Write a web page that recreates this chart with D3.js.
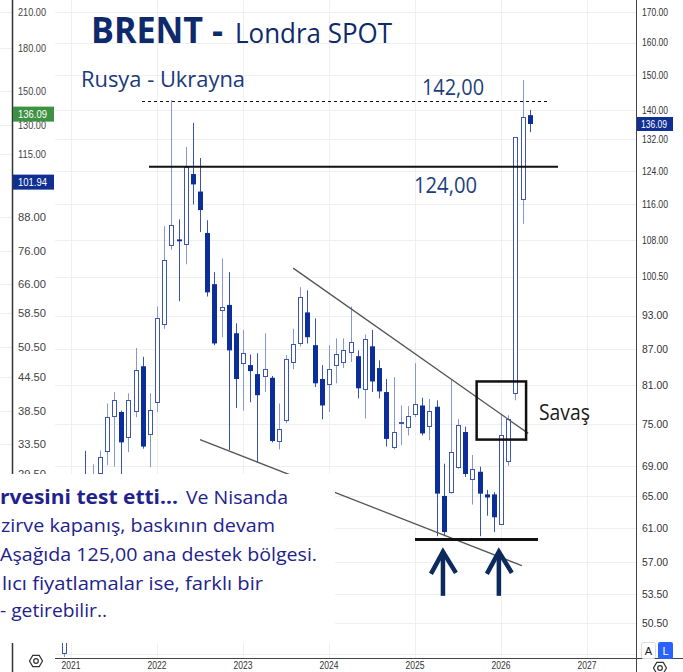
<!DOCTYPE html>
<html><head><meta charset="utf-8">
<script src="https://cdn.jsdelivr.net/npm/d3@7"></script>
<style>body{margin:0;background:#fff;}svg{display:block;}</style>
</head><body>
<svg id="c" width="683" height="672"></svg>
<script>
// ---- data (monthly Brent candles) ----
const months = ["2020-12",
 "2021-01","2021-02","2021-03","2021-04","2021-05","2021-06","2021-07","2021-08","2021-09","2021-10","2021-11","2021-12",
 "2022-01","2022-02","2022-03","2022-04","2022-05","2022-06","2022-07","2022-08","2022-09","2022-10","2022-11","2022-12",
 "2023-01","2023-02","2023-03","2023-04","2023-05","2023-06","2023-07","2023-08","2023-09","2023-10","2023-11","2023-12",
 "2024-01","2024-02","2024-03","2024-04","2024-05","2024-06","2024-07","2024-08","2024-09","2024-10","2024-11","2024-12",
 "2025-01","2025-02","2025-03","2025-04","2025-05","2025-06","2025-07","2025-08","2025-09","2025-10","2025-11","2025-12",
 "2026-01","2026-02","2026-03","2026-04","2026-05"];
const open  = [47.6,
 51.5,55.5,66.0,64.0,68.0,71.0,76.2,76.8,73.0,76.8,84.1,73.5,
 78.3,91.4,106.9,108.2,107.2,123.2,119.0,109.6,99.0,94.0,95.0,89.8,
 84.6,84.3,82.8,82.5,82.2,72.5,75.5,84.8,88.2,93.6,87.7,82.0,
 81.2,84.3,84.8,86.5,85.8,80.4,87.5,83.8,79.9,71.7,75.1,74.6,
 76.6,77.8,74.6,77.6,65.0,65.5,68.9,73.8,67.2,68.2,65.2,65.2,
 61.5,69.6,79.7,117.2,138.5];
const high  = [52.0,
 56.5,67.8,71.1,69.2,71.1,78.1,79.9,77.0,79.7,87.2,85.7,79.7,
 94.7,111.1,142.7,112.6,130.0,136.4,127.2,112.4,101.4,104.2,101.4,91.6,
 90.4,86.1,86.3,89.8,82.5,78.1,86.0,90.6,98.4,97.8,92.5,84.3,
 87.7,88.9,88.9,94.7,86.8,89.6,90.4,85.1,82.0,82.3,77.8,77.7,
 84.6,79.0,78.8,78.6,69.3,82.0,75.7,74.6,70.5,68.9,65.8,65.5,
 76.4,76.3,132.5,148.5,139.9];
const low   = [47.2,
 50.5,55.0,60.5,61.5,64.5,69.1,68.9,65.0,70.9,76.0,71.4,68.8,
 76.8,90.6,106.0,95.7,103.0,116.0,109.8,96.6,87.7,89.1,71.2,77.4,
 77.0,78.3,69.5,79.9,72.3,71.3,75.1,83.6,87.5,88.0,80.7,75.7,
 76.8,81.3,83.8,84.8,78.9,75.8,79.9,78.9,71.7,71.3,71.9,73.3,
 76.0,73.3,72.6,60.0,60.0,65.3,68.6,67.5,63.9,60.0,62.5,60.5,
 61.4,69.0,78.6,111.6,133.9];
const close = [51.5,
 55.5,66.0,64.0,67.8,70.2,76.0,78.6,72.3,78.6,83.4,71.7,77.1,
 92.5,103.8,111.3,107.8,124.9,120.7,114.7,97.4,88.0,94.6,86.8,82.0,
 86.3,83.3,79.4,83.6,72.5,74.3,85.3,87.9,96.6,89.1,81.3,77.8,
 83.6,86.1,86.8,88.2,80.5,88.8,81.6,80.0,72.8,73.8,75.3,76.2,
 78.1,73.6,76.9,65.3,60.5,70.9,74.9,67.9,68.6,65.3,64.8,62.3,
 73.4,75.7,132.5,137.9,136.09];

const rightTicks = [170,160,150,140,132,124,116,108,100.5,93,87,81,75,69,65,61,57,53.5,50.5];
const rightGridExtra = [47.5];
const leftTicks  = [210,180,150,130,115,88,76,66,58.5,50.5,44.5,38.5,33.5,29.5];
const years      = [2021,2022,2023,2024,2025,2026,2027];
const lastPrice  = 136.09;
const leftBadges = [{v:136.09,c:"#3d9142"},{v:101.94,c:"#0f2f93"}];

// annotation levels (price / month-index coordinates)
const resistTop = 142.5, resist = 125, support = 59.6;
const upperTrend = [[31,102.2],[63.8,73.6]];
const lowerTrend = [[18,72.7],[62.9,56.6]];
const warBox = [[56.6,81.6],[63.5,72.7]];
const arrowsAt = [51.9,59.7];
const arrowTip = 58.4, arrowEnd = 53.3;

// ---- scales ----
const svg = d3.select("#c");
const x  = d3.scaleLinear().domain([0,72]).range([71,587]);
const y  = d3.scaleLog().domain([50.5,170]).range([623,12]);
const yL = d3.scaleLog().domain([29.5,210]).range([474,12]);
const mi = s => { const [Y,M] = s.split("-").map(Number); return (Y-2021)*12 + M - 1; };
const candles = months.map((m,i)=>({m:mi(m),o:open[i],h:high[i],l:low[i],c:close[i]}));

const AX_R = 636, AX_B = 658, PL = 55;
const grid = "#efefef";

// ---- grids ----
const g0 = svg.append("g");
g0.selectAll(".lg").data(leftTicks).join("line")
  .attr("x1",0).attr("x2",12).attr("y1",d=>Math.round(yL(d))+0.5).attr("y2",d=>Math.round(yL(d))+0.5)
  .attr("stroke",grid);
g0.selectAll(".rg").data(rightTicks.concat(rightGridExtra)).join("line")
  .attr("x1",PL).attr("x2",AX_R).attr("y1",d=>Math.round(y(d))+0.5).attr("y2",d=>Math.round(y(d))+0.5)
  .attr("stroke",grid);
g0.selectAll(".vg").data(years).join("line")
  .attr("x1",d=>Math.round(x((d-2021)*12))+0.5).attr("x2",d=>Math.round(x((d-2021)*12))+0.5)
  .attr("y1",0).attr("y2",AX_B).attr("stroke",grid);

// ---- candles ----
svg.append("clipPath").attr("id","pc").append("rect").attr("x",PL).attr("y",0).attr("width",AX_R-PL).attr("height",AX_B);
const gc = svg.append("g").attr("clip-path","url(#pc)");
candles.forEach(d=>{
  const px = Math.round(x(d.m));
  const up = d.c >= d.o;
  gc.append("line").attr("x1",px+0.5).attr("x2",px+0.5)
    .attr("y1",y(d.h)).attr("y2",y(d.l))
    .attr("stroke", up ? "#8597d8" : "#3a53b2").attr("stroke-width",1);
  const t = y(Math.max(d.o,d.c)), b = y(Math.min(d.o,d.c));
  if (up) {
    gc.append("rect").attr("x",px-1.5).attr("y",Math.round(t)+0.5)
      .attr("width",4).attr("height",Math.max(1,Math.round(b-t)))
      .attr("fill","#fff").attr("stroke","#3d56b6").attr("stroke-width",1);
  } else {
    gc.append("rect").attr("x",px-2).attr("y",t)
      .attr("width",5).attr("height",Math.max(1.5,b-t))
      .attr("fill","#0b2e9a");
  }
});

// ---- annotations ----
const ga = svg.append("g");
ga.append("line").attr("x1",142).attr("x2",550).attr("y1",Math.round(y(resistTop))+0.5).attr("y2",Math.round(y(resistTop))+0.5)
  .attr("stroke","#111").attr("stroke-width",1).attr("stroke-dasharray","3,3");
ga.append("line").attr("x1",149).attr("x2",558).attr("y1",y(resist)).attr("y2",y(resist))
  .attr("stroke","#111").attr("stroke-width",2);
const tl = t => ga.append("line").attr("x1",x(t[0][0])).attr("y1",y(t[0][1])).attr("x2",x(t[1][0])).attr("y2",y(t[1][1]))
  .attr("stroke","#555").attr("stroke-width",1.3);
tl(upperTrend); tl(lowerTrend);
ga.append("rect").attr("x",x(warBox[0][0])).attr("y",y(warBox[0][1]))
  .attr("width",x(warBox[1][0])-x(warBox[0][0])).attr("height",y(warBox[1][1])-y(warBox[0][1]))
  .attr("fill","none").attr("stroke","#111").attr("stroke-width",2.5);
ga.append("line").attr("x1",415).attr("x2",538).attr("y1",y(support)).attr("y2",y(support))
  .attr("stroke","#111").attr("stroke-width",3);
arrowsAt.forEach(m=>{
  const ax = x(m), ty = y(arrowTip), by = y(arrowEnd);
  ga.append("line").attr("x1",ax).attr("x2",ax).attr("y1",ty+3).attr("y2",by).attr("stroke","#0d2a5e").attr("stroke-width",4.5);
  ga.append("path").attr("d",`M${ax-12},${ty+24} L${ax},${ty+2} L${ax+13},${ty+23}`)
    .attr("fill","none").attr("stroke","#0d2a5e").attr("stroke-width",4.5);
});

const F = "'Open Sans', 'Noto Sans', sans-serif";
const txt = (s,xx,yy,size,col,w,len) => {
  const t = ga.append("text").attr("x",xx).attr("y",yy).text(s)
    .attr("font-family",F).attr("font-size",size).attr("fill",col).attr("font-weight",w||400);
  if (len) t.attr("textLength",len).attr("lengthAdjust","spacingAndGlyphs");
  return t;
};
txt("BRENT -",91,43,35,"#0e2a6a",700,132);
txt("Londra SPOT",235,43,28,"#0e2a6a",400,157);
txt("Rusya - Ukrayna",81,87,22,"#1a3a7a",400,164);
txt("142,00",422,95,22,"#1e3f7c",400,62);
txt("124,00",414,193,22,"#1e3f7c",400,63);
txt("Savaş",539,420,21,"#1a1a1a",400,51);

// ---- right axis ----
const gr = svg.append("g");
gr.append("line").attr("x1",AX_R+0.5).attr("x2",AX_R+0.5).attr("y1",0).attr("y2",672).attr("stroke","#444");
gr.selectAll("text").data(rightTicks).join("text")
  .attr("x",642).attr("y",d=>y(d)).attr("dy","0.35em")
  .attr("font-family","'Liberation Sans', Arial, sans-serif").attr("font-size",11).attr("fill","#333")
  .attr("textLength",26).attr("lengthAdjust","spacingAndGlyphs")
  .text(d=>d3.format(".2f")(d));
gr.append("rect").attr("x",AX_R+1).attr("y",y(lastPrice)-7).attr("width",36).attr("height",14).attr("fill","#0f2f93");
gr.append("text").attr("x",641).attr("y",y(lastPrice)).attr("dy","0.35em")
  .attr("font-family","'Liberation Sans', Arial, sans-serif").attr("font-size",11).attr("fill","#fff")
  .attr("textLength",26).attr("lengthAdjust","spacingAndGlyphs").text(d3.format(".2f")(lastPrice));

// ---- left axis ----
const gl = svg.append("g");
gl.append("line").attr("x1",12.5).attr("x2",12.5).attr("y1",0).attr("y2",672).attr("stroke","#333").attr("stroke-width",1.5);
gl.selectAll("text").data(leftTicks).join("text")
  .attr("x",18).attr("y",d=>yL(d)).attr("dy","0.35em")
  .attr("font-family","'Liberation Sans', Arial, sans-serif").attr("font-size",11.5).attr("fill","#444")
  .attr("textLength",28).attr("lengthAdjust","spacingAndGlyphs")
  .text(d=>d3.format(".2f")(d));
leftBadges.forEach(b=>{
  gl.append("rect").attr("x",13).attr("y",yL(b.v)-7.5).attr("width",41).attr("height",15).attr("fill",b.c);
  gl.append("text").attr("x",18).attr("y",yL(b.v)).attr("dy","0.35em")
    .attr("font-family","'Liberation Sans', Arial, sans-serif").attr("font-size",11.5).attr("fill","#fff")
    .attr("textLength",29).attr("lengthAdjust","spacingAndGlyphs").text(d3.format(".2f")(b.v));
});

// ---- text box ----
const gb = svg.append("g");
gb.append("rect").attr("x",0).attr("y",474).attr("width",335).attr("height",169).attr("fill","#fff");
const BC = "#22228c";
const bt = (s,xx,yy,w,len) => gb.append("text").attr("x",xx).attr("y",yy).text(s)
  .attr("font-family",F).attr("font-size",19).attr("fill",BC).attr("font-weight",w)
  .attr("textLength",len).attr("lengthAdjust","spacingAndGlyphs");
bt("rvesini test etti...",0,504,700,178);
bt("Ve Nisanda",186,504,400,102);
bt("zirve kapanış, baskının devam",1,532,400,274);
bt("Aşağıda 125,00 ana destek bölgesi.",0,561,400,317);
bt("lıcı fiyatlamalar ise, farklı bir",2,590,400,261);
bt("- getirebilir..",0,617,400,107);

// ---- time axis ----
const gt = svg.append("g");
gt.append("line").attr("x1",PL).attr("x2",683).attr("y1",AX_B+0.5).attr("y2",AX_B+0.5).attr("stroke","#444");
gt.selectAll("text").data(years).join("text")
  .attr("x",d=>x((d-2021)*12)).attr("y",669).attr("text-anchor","middle")
  .attr("font-family","'Liberation Sans', Arial, sans-serif").attr("font-size",10.5).attr("fill","#333")
  .attr("textLength",19).attr("lengthAdjust","spacingAndGlyphs").text(d=>d);
const gear = (cx,cy)=>{
  const pts = d3.range(6).map(i=>[cx+6.5*Math.cos(Math.PI/3*i),cy+6.5*Math.sin(Math.PI/3*i)]);
  gt.append("path").attr("d","M"+pts.join("L")+"Z").attr("fill","none").attr("stroke","#333").attr("stroke-width",1.2);
  gt.append("circle").attr("cx",cx).attr("cy",cy).attr("r",2.3).attr("fill","none").attr("stroke","#333").attr("stroke-width",1.2);
};
gear(36,661); gear(660,668);
gt.append("rect").attr("x",641.5).attr("y",642.5).attr("width",14).attr("height",16).attr("rx",2)
  .attr("fill","#fff").attr("stroke","#ddd");
gt.append("text").attr("x",648.5).attr("y",651).attr("dy","0.35em").attr("text-anchor","middle")
  .attr("font-family","'Liberation Sans', Arial, sans-serif").attr("font-size",11).attr("fill","#222").text("A");
gt.append("rect").attr("x",658).attr("y",642).attr("width",15).attr("height",17).attr("rx",2).attr("fill","#2962ff");
gt.append("text").attr("x",665.5).attr("y",651).attr("dy","0.35em").attr("text-anchor","middle")
  .attr("font-family","'Liberation Sans', Arial, sans-serif").attr("font-size",11).attr("fill","#fff").text("L");
</script>
</body></html>
